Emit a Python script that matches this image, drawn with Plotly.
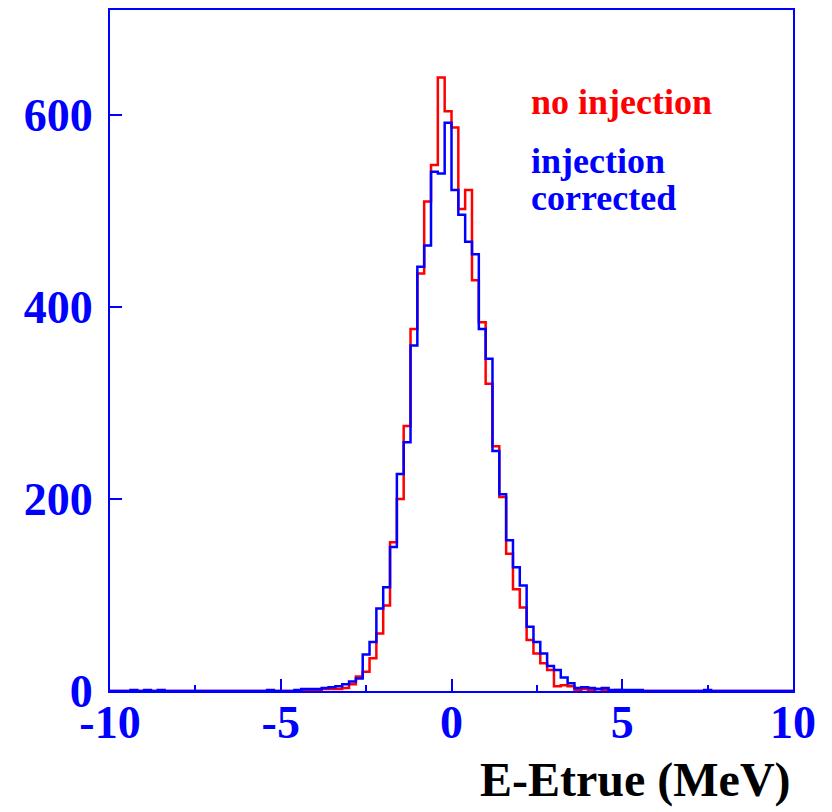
import plotly.graph_objects as go

# Histogram: 100 bins of 0.2 MeV from -10 to 10
bin_low = -10.0
bin_width = 0.2
n_bins = 100

# counts per bin (index k -> [-10+0.2k, -10+0.2(k+1)])
no_injection = [
    0, 0, 0, 0, 0, 0, 0, 0, 0, 0,
    0, 0, 0, 0, 0, 0, 0, 0, 0, 0,
    0, 0, 0, 0, 0, 0, 0, 0, 1, 0,
    1, 2, 2, 2, 3, 7, 15, 20, 34, 60,
    89, 155, 200, 276, 377, 435, 510, 548, 639, 604,
    587, 502, 522, 428, 384, 320, 255, 202, 143, 106,
    87, 53, 39, 29, 22, 5, 6, 5, 1, 2,
    1, 2, 1, 0, 1, 0, 0, 0, 0, 0,
    0, 0, 0, 0, 0, 0, 0, 0, 0, 0,
    0, 0, 0, 0, 0, 0, 0, 0, 0, 0,
]

injection_corrected = [
    0, 0, 0, 1, 0, 1, 0, 1, 0, 0,
    0, 0, 0, 0, 0, 0, 0, 0, 0, 0,
    0, 0, 0, 1, 0, 0, 0, 1, 2, 2,
    2, 3, 4, 5, 7, 10, 13, 38, 51, 86,
    108, 150, 226, 259, 360, 442, 464, 541, 539, 592,
    522, 496, 468, 455, 377, 346, 250, 205, 157, 129,
    110, 67, 51, 39, 26, 22, 14, 8, 3, 4,
    3, 2, 3, 1, 1, 1, 1, 1, 0, 0,
    0, 0, 0, 0, 0, 0, 0, 1, 0, 0,
    0, 0, 0, 0, 0, 0, 0, 0, 0, 0,
]

x_ticks = [-10, -5, 0, 5, 10]
y_ticks = [0, 200, 400, 600]

edges = [bin_low + bin_width * k for k in range(n_bins + 1)]

BLUE = "#0000ff"
RED = "#ff0000"
FONT = "Liberation Serif"

fig = go.Figure()
fig.add_trace(go.Scatter(x=edges, y=no_injection + [no_injection[-1]],
                         mode="lines", line=dict(shape="hv", color=RED, width=2.5),
                         showlegend=False, hoverinfo="skip"))
fig.add_trace(go.Scatter(x=edges, y=injection_corrected + [injection_corrected[-1]],
                         mode="lines", line=dict(shape="hv", color=BLUE, width=2.5),
                         showlegend=False, hoverinfo="skip"))

tickfont = dict(family=FONT, size=46, color=BLUE, weight="bold")

fig.update_layout(
    width=832, height=812,
    margin=dict(l=110, r=39, t=8, b=121),
    paper_bgcolor="white", plot_bgcolor="white",
    showlegend=False,
    xaxis=dict(range=[-10, 10], tickvals=x_ticks, ticktext=[str(v) for v in x_ticks],
               ticks="inside", ticklen=12, tickwidth=2, tickcolor=BLUE,
               showline=True, linecolor=BLUE, linewidth=2, mirror=True,
               showgrid=False, zeroline=False, tickfont=tickfont,
               ticklabelstandoff=-10,
               minor=dict(dtick=2.5, tick0=0, ticks="inside", ticklen=6,
                          tickwidth=2, tickcolor=BLUE, showgrid=False)),
    yaxis=dict(range=[0, 709.4], tickvals=y_ticks, ticktext=[str(v) for v in y_ticks],
               ticks="inside", ticklen=12, tickwidth=2, tickcolor=BLUE,
               showline=True, linecolor=BLUE, linewidth=2, mirror=True,
               showgrid=False, zeroline=False, tickfont=tickfont,
               ticklabelstandoff=6),
)

fig.add_annotation(text="E-Etrue (MeV)", xref="paper", yref="paper",
                   x=1.0, y=-0.131, xanchor="right", yanchor="middle",
                   showarrow=False,
                   font=dict(family=FONT, size=48, color="black", weight="bold"))
fig.add_annotation(text="no injection", x=2.27, y=614, xanchor="left", yanchor="middle",
                   showarrow=False, font=dict(family=FONT, size=36, color=RED, weight="bold"))
fig.add_annotation(text="injection", x=2.27, y=552, xanchor="left", yanchor="middle",
                   showarrow=False, font=dict(family=FONT, size=36, color=BLUE, weight="bold"))
fig.add_annotation(text="corrected", x=2.27, y=514, xanchor="left", yanchor="middle",
                   showarrow=False, font=dict(family=FONT, size=36, color=BLUE, weight="bold"))

fig.write_html("out.html")
